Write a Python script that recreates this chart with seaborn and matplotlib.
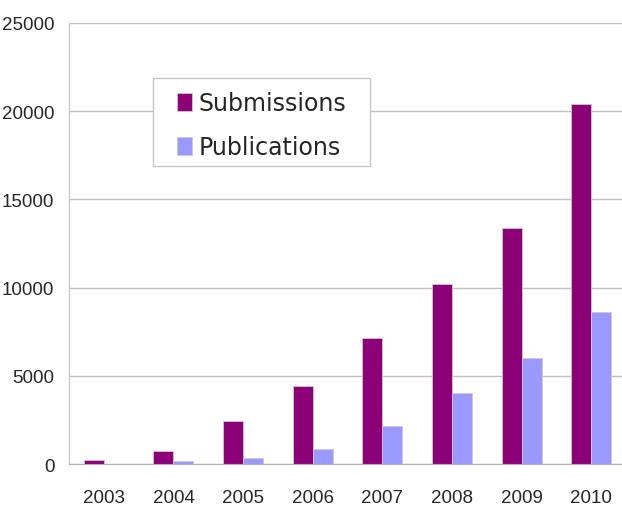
import pandas as pd
import numpy as np
import matplotlib
matplotlib.use("Agg")
import matplotlib.pyplot as plt
from matplotlib.patches import Rectangle
import seaborn as sns

years = ["2003", "2004", "2005", "2006", "2007", "2008", "2009", "2010"]
submissions = [230, 750, 2420, 4420, 7140, 10200, 13380, 20400]
publications = [20, 170, 320, 850, 2140, 4020, 6010, 8620]

df = pd.DataFrame({
    "Year": years * 2,
    "Count": submissions + publications,
    "Series": ["Submissions"] * len(years) + ["Publications"] * len(years),
})

sns.set_style("white")
plt.rcParams["font.family"] = ["Liberation Sans", "DejaVu Sans"]

fig = plt.figure(figsize=(6.22, 5.10), dpi=100)
ax = fig.add_axes([0.111, 0.088, 0.8955, 0.865])

palette = {"Submissions": "#8C0078", "Publications": "#9999FF"}
sns.barplot(data=df, x="Year", y="Count", hue="Series", palette=palette,
            width=0.575, gap=0, saturation=1, ax=ax, legend=True)

for p in ax.patches:
    p.set_edgecolor("#d0c8d0")
    p.set_linewidth(0.6)

ax.set_ylim(0, 25000)
ax.set_xlim(-0.5, 7.5)
ax.set_yticks(np.arange(0, 25001, 5000))
ax.yaxis.grid(True, color="#c0c0c0", linewidth=1)
ax.set_axisbelow(True)
ax.set_xlabel("")
ax.set_ylabel("")

for s in ["top", "right"]:
    ax.spines[s].set_visible(False)
ax.spines["left"].set_color("#c0c0c0")
ax.spines["bottom"].set_color("#b0b0b0")

ax.set_xticks(np.arange(-0.5, 8, 1), minor=True)
ax.tick_params(axis="x", which="minor", length=8, color="#b0b0b0", width=1)
ax.tick_params(axis="x", which="major", length=0, pad=18, labelsize=13.5)
ax.tick_params(axis="y", length=0, pad=10.5, labelsize=13.5)

# legend box drawn separately so its padding can match the original
W, H = 622, 510
box = Rectangle((153 / W, 1 - 167 / H), 217 / W, 88 / H,
                transform=fig.transFigure, facecolor="white",
                edgecolor="#c8c8c8", linewidth=1, zorder=4, clip_on=False)
ax.add_artist(box)
leg = ax.legend(loc="upper left", bbox_to_anchor=(177 / W, 1 - 92 / H),
                bbox_transform=fig.transFigure, frameon=False,
                prop={"family": "DejaVu Sans", "size": 17},
                handlelength=0.62, handleheight=0.8, handletextpad=0.3,
                borderpad=0, labelspacing=0.85, borderaxespad=0)
leg.set_zorder(6)

fig.savefig("out.png", dpi=100)
